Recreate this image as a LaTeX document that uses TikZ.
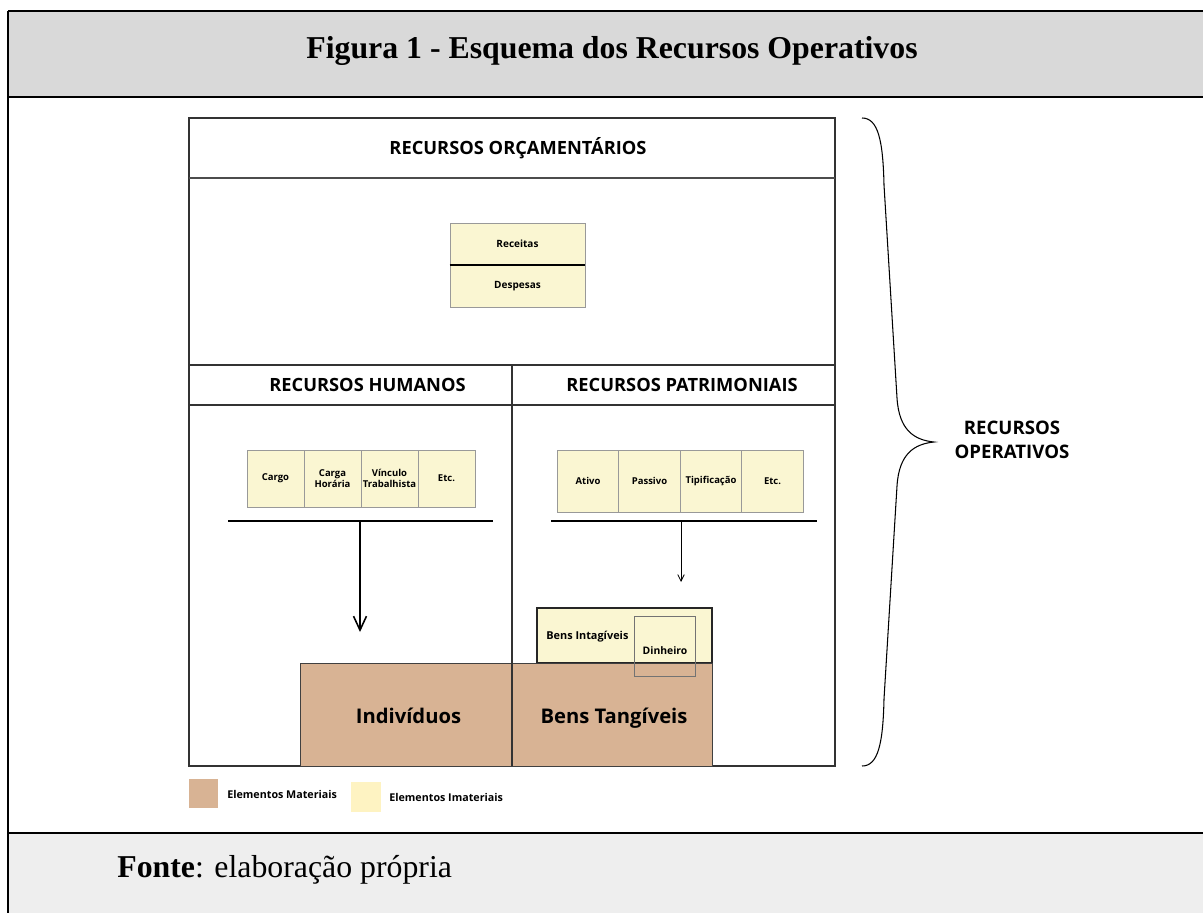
\documentclass[tikz,border=0pt]{standalone}
\usepackage{fontspec}
\setmainfont{Liberation Serif}
\newfontfamily\canvafont{Open Sans}
\usetikzlibrary{arrows.meta, positioning}

\definecolor{matbrown}{RGB}{216,179,148}
\definecolor{imatyellow}{RGB}{250,246,210}
\definecolor{legyellow}{RGB}{254,243,194}
\definecolor{titlegray}{RGB}{217,217,217}
\definecolor{fontegray}{RGB}{238,238,238}

\newcommand{\cvs}[2]{\fontsize{#1}{#2}\selectfont\canvafont\bfseries}

\begin{document}
\begin{tikzpicture}
  [x=0.02cm, y=-0.02cm,
   frame/.style={line width=1.2pt, draw=black},
   panel/.style={line width=0.8pt, draw=black!80},
   header/.style={draw=black!80, line width=0.8pt, minimum width=6.46cm,
                  minimum height=0.8cm, inner sep=0pt},
   headtxt/.style={inner sep=0pt, font=\cvs{10.4}{12}},
   cell/.style={draw=black!40, fill=imatyellow, minimum width=1.14cm,
                minimum height=1.14cm, inner sep=0pt, align=center,
                font=\cvs{5.4}{6.6}},
   rcell/.style={cell, minimum width=1.23cm, minimum height=1.24cm},
   budget/.style={cell, minimum width=2.7cm, minimum height=0.84cm,
                  font=\cvs{5.7}{6.6}},
   matbox/.style={draw=black!75, fill=matbrown, minimum height=2.06cm,
                  inner sep=0pt},
   mattxt/.style={inner sep=0pt, anchor=base, font=\cvs{11.5}{13}},
   small/.style={inner sep=0pt, font=\cvs{5.9}{6.8}},
   bar/.style={line width=0.9pt},
   bigdown/.style={-{Straight Barb[length=2.8mm,width=2.6mm]}, line width=0.9pt},
   smalldown/.style={-{Straight Barb[length=1.3mm,width=1.3mm]}, line width=0.5pt}]

  \useasboundingbox (0,0) rectangle (1203,913);

  % Moldura
  \fill[titlegray] (8,11) rectangle (1203,97);
  \fill[fontegray] (8,833) rectangle (1203,913);
  \draw[frame, line width=1.6pt] (8,11) -- (1203,11);
  \draw[frame] (8,97) -- (1203,97);
  \draw[frame] (8,833) -- (1203,833);
  \draw[frame] (8,11) -- (8,913);

  \node (title) at (612,51)
      {\fontsize{18.1}{21}\selectfont\bfseries Figura 1 - Esquema dos Recursos Operativos};
  \node (fonte) [anchor=base west, inner sep=0pt] at (117,877)
      {\fontsize{18.1}{21}\selectfont\textbf{Fonte}: elaboração própria};

  % Recursos orcamentarios
  \draw[panel] (189,118) rectangle (835,766);
  \draw[panel, draw=black!70] (189,178) -- (835,178);
  \node (orcam) at (518,148) [headtxt] {RECURSOS ORÇAMENTÁRIOS};
  \node (receitas) at (517.5,244) [budget] {Receitas};
  \node (despesas) at (517.5,286) [budget] {Despesas};
  \draw[line width=1pt] (receitas.south west) -- (receitas.south east);

  % Recursos humanos e patrimoniais
  \node (humanos) at (350.5,385) [header] {};
  \node (humanostxt) at (367.5,385) [headtxt] {RECURSOS HUMANOS};
  \node (patrim) at (673.5,385) [header] {};
  \node (patrimtxt) at (682,385) [headtxt] {RECURSOS PATRIMONIAIS};
  \draw[panel] (512,405) -- (512,766);

  \node (cargo) at (275.5,478.5) [cell] {Cargo};
  \node (chora) at (332.5,478.5) [cell] {Carga\\Horária};
  \node (vinculo) at (389.5,478.5) [cell] {Vínculo\\Trabalhista};
  \node (hretc) at (446.5,478.5) [cell] {Etc.};

  \node (ativo) at (588,481) [rcell] {Ativo};
  \node (passivo) at (649.5,481) [rcell] {Passivo};
  \node (tipif) at (711,481) [rcell] {Tipificação};
  \node (rpetc) at (772.5,481) [rcell] {\raisebox{-2pt}{Etc.}};

  \coordinate (hrbarL) at (228,521);
  \coordinate (hrbarR) at (493,521);
  \coordinate (hrsplit) at (360,521);
  \coordinate (hrtip) at (360,632);
  \draw[bar] (hrbarL) -- (hrbarR);
  \draw[bigdown] (hrsplit) -- (hrtip);

  \coordinate (rpbarL) at (551,521);
  \coordinate (rpbarR) at (817,521);
  \coordinate (rpsplit) at (681,521);
  \coordinate (rptip) at (681,582);
  \draw[bar] (rpbarL) -- (rpbarR);
  \draw[smalldown] (rpsplit) -- (rptip);

  % Bens
  \node (intang) at (624.5,635.5) [draw=black!85, line width=0.8pt, fill=imatyellow,
      minimum width=3.5cm, minimum height=1.1cm, inner sep=0pt] {};
  \node (intanglbl) at (546,637) [small, anchor=west, font=\cvs{6.2}{7}] {Bens Intagíveis};
  \node (individuos) at (406,714.5) [matbox, minimum width=4.24cm] {};
  \node (individuostxt) at (408.5,723) [mattxt] {Indivíduos};
  \node (tangiveis) at (612,714.5) [matbox, minimum width=4cm] {};
  \node (tangiveistxt) at (614,723) [mattxt] {Bens Tangíveis};
  \node (dinheiro) at (664.5,646) [draw=black!55, line width=0.4pt,
      minimum width=1.22cm, minimum height=1.2cm, inner sep=0pt] {};
  \node (dinheirolbl) at (665,651) [small] {Dinheiro};
  \draw[panel] (512,663) -- (512,766);

  % Chave
  \draw[line width=0.6pt] (862,118) .. controls (878,118) and (883,140) .. (884,185)
    -- (897,398) .. controls (899,430) and (914,440) .. (934,442)
    .. controls (914,444) and (899,454) .. (897,486)
    -- (884,699) .. controls (883,744) and (878,766) .. (862,766);
  \node (operativos) at (1012,440) [align=center, font=\cvs{10.6}{13.6}]
      {RECURSOS\\OPERATIVOS};

  % Legenda
  \node (legmat) at (203.5,793.5) [fill=matbrown, minimum size=0.58cm, inner sep=0pt] {};
  \node (legmattxt) at (227,794) [small, anchor=west, font=\cvs{6.1}{7}] {Elementos Materiais};
  \node (legimat) at (366,796.5) [fill=legyellow, minimum size=0.6cm, inner sep=0pt] {};
  \node (legimattxt) at (389,797) [small, anchor=west, font=\cvs{6.1}{7}] {Elementos Imateriais};

\end{tikzpicture}
\end{document}
